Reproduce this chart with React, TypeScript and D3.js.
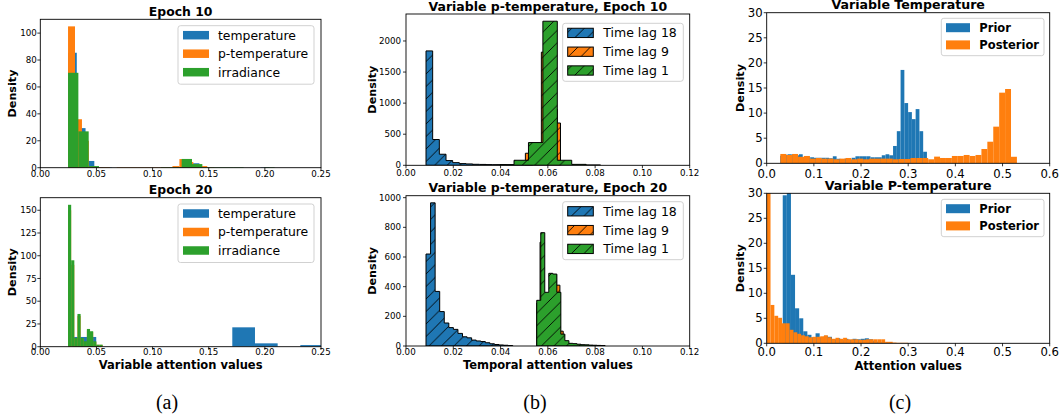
import React from 'react';
import * as d3 from 'd3';

const C_BLUE = '#1f77b4';
const C_ORANGE = '#ff7f0e';
const C_GREEN = '#2ca02c';
const FONT = "'DejaVu Sans', sans-serif";

// ---------- Panel (a): variable attention histograms ----------
const varLabels = ['temperature', 'p-temperature', 'irradiance'];
const aXTicks = [0, 0.05, 0.1, 0.15, 0.2, 0.25];
const a1YTicks = [0, 20, 40, 60, 80, 100];
const a2YTicks = [0, 25, 50, 75, 100, 125, 150];

// Epoch 10
const e10TempStart = 0.0247, e10TempWidth = 0.0078;
const e10Temp = [85.4, 29.4, 5, 0.4, 0.3, 0, 0, 0, 0, 0, 0, 0, 0.4, 5, 3.3, 0.4, 0, 0, 0, 0, 0, 0, 0.3];
const e10PTempStart = 0.0247, e10PTempWidth = 0.0062;
const e10PTemp = [105, 36, 20, 1, 0.5, 0.5, 0, 0.4, 0.4, 0.4, 0.4, 0.4, 0.4, 0.4, 0.4, 1.2, 6.4, 4.2, 2.5, 1.2, 0.3];
const e10IrrStart = 0.0247, e10IrrWidth = 0.0092;
const e10Irr = [70.5, 27, 1.2, 0, 0, 0, 0, 0, 0, 0.4, 0.4, 6.5, 2.7, 0.4, 0.4, 0.4, 0.4, 0, 0, 0.4];

// Epoch 20
const e20TempStart = 0.0296, e20TempWidth = 0.0202;
const e20Temp = [10.7, 0, 0, 0, 0, 0, 0, 21.3, 3.7, 0, 1.8];
const e20PTempStart = 0.0247, e20PTempWidth = 0.0028;
const e20PTemp = [150, 90, 9, 34, 9, 5, 18, 16, 5, 2, 2];
const e20IrrStart = 0.0247, e20IrrWidth = 0.0028;
const e20Irr = [156, 95, 9.6, 36, 9.6, 6, 19.5, 17, 6, 2.2, 2.2];

// ---------- Panel (b): temporal attention of p-temperature ----------
const lagLabels = ['Time lag 18', 'Time lag 9', 'Time lag 1'];
const bXTicks = [0, 0.02, 0.04, 0.06, 0.08, 0.1, 0.12];
const b1YTicks = [0, 500, 1000, 1500, 2000];
const b2YTicks = [0, 200, 400, 600, 800, 1000];

const e10Lag18Start = 0.00846, e10Lag18Width = 0.00282;
const e10Lag18 = [1840, 415, 178, 76, 43, 27, 22, 16, 14, 11, 10, 10, 5, 4, 3, 2];
const e10Lag9Start = 0.0505, e10Lag9Width = 0.00135;
const e10Lag9 = [194, 250, 300, 320, 300, 1820, 1400, 1500, 1300, 900, 680];
const e10Lag1Start = 0.0396, e10Lag1Width = 0.0061;
const e10Lag1 = [10, 81, 366, 2318, 81, 15, 5];

const e20Lag18Start = 0.00846, e20Lag18Width = 0.00193;
const e20Lag18 = [620, 965, 368, 232, 155, 124, 112, 85, 62, 55, 40, 34, 30, 22, 15, 10, 7, 5, 3];
const e20Lag9Start = 0.0553, e20Lag9Width = 0.0014;
const e20Lag9 = [290, 700, 350, 350, 470, 480, 410, 100, 30, 10];
const e20Lag1Start = 0.0553, e20Lag1Width = 0.0017;
const e20Lag1 = [308, 764, 362, 490, 485, 362, 80, 36, 18, 16, 12, 9, 8, 6, 5, 4, 3];

// ---------- Panel (c): prior vs posterior ----------
const pLabels = ['Prior', 'Posterior'];
const cXTicks = [0, 0.1, 0.2, 0.3, 0.4, 0.5, 0.6];
const cYTicks = [0, 5, 10, 15, 20, 25, 30];

const tPriorStart = 0.0285, tPriorWidth = 0.00798;
const tPrior = [1.5, 1.7, 1.8, 1.8, 1.6, 1.8, 1.2, 1.2, 1.2, 1.1, 1.1, 1.1, 1.1, 1.0, 1.4, 0.9, 0.7, 0.9, 0.7, 1.1,
  1.4, 1.4, 1.4, 1.4, 1.2, 1.2, 1.2, 1.6, 1.8, 1.6, 3.45, 6.4, 18.6, 12.0, 10.2, 8.8, 10.8, 6.4, 2.3];
const tPostStart = 0.0289, tPostWidth = 0.01254;
const tPost = [1.86, 1.66, 1.86, 1.3, 1.46, 0.93, 1.06, 0.93, 0.93, 0.8, 0.93, 1.06, 0.8, 0.93, 0.8, 0.93, 0.93, 0.93, 0.93, 0.8,
  0.86, 0.86, 1.06, 1.06, 1.06, 0.8, 1.33, 1.06, 1.06, 1.46, 1.46, 1.66, 1.46, 1.66, 2.85, 4.3, 7.3, 14.07, 14.8, 1.3];

const pPriorStart = 0.034, pPriorWidth = 0.0087;
const pPrior = [29.6, 35, 13.7, 7.0, 5.0, 2.4, 1.7, 1.2, 2.0, 1.2, 1.5, 1.3, 0.8, 1.0, 0.6, 0.9, 0.7, 0.9, 0.8, 0.9, 1.0, 0.8, 0.5, 0.3, 0.2];
const pPostStart = 0.0, pPostWidth = 0.0081;
const pPost = [45, 7.67, 5.5, 5.1, 4.0, 4.0, 2.7, 2.2, 1.9, 1.6, 1.4, 1.2, 1.3, 1.3, 1.4, 1.6, 1.2, 0.9, 1.1, 0.9,
  1.1, 0.8, 0.8, 0.8, 0.7, 0.7, 0.8, 0.8, 0.8, 0.8, 0.8, 0.3, 0.3, 0.15, 0.1, 0.1, 0.1];

const captions = ['(a)', '(b)', '(c)'];

// ---------- types ----------
interface Hist { label: string; color: string; start: number; width: number; values: number[] }
interface LegendCfg {
  x: number; y: number; w: number; h: number; rowStart: number; rowStep: number;
  patchDx: number; patchW: number; patchH: number; textDx: number; fontSize: number; bold?: boolean;
}
interface PanelCfg {
  id: string; left: number; right: number; top: number; bottom: number;
  xMax: number; xTicks: number[]; xFmt: string; yMax: number; yTicks: number[];
  series: Hist[]; hatched?: boolean;
  title: string; titleY: number; titleSize: number;
  yLabelX: number; xLabel?: string; xLabelY?: number;
  tickSize: number; yTickPad: number; xTickBaseline: number;
  legend: LegendCfg;
}

const mk = (label: string, color: string, start: number, width: number, values: number[]): Hist =>
  ({ label, color, start, width, values });
const autoMax = (s: Hist[]) => 1.05 * (d3.max(s.flatMap(h => h.values)) as number);

const a1Series = [
  mk(varLabels[0], C_BLUE, e10TempStart, e10TempWidth, e10Temp),
  mk(varLabels[1], C_ORANGE, e10PTempStart, e10PTempWidth, e10PTemp),
  mk(varLabels[2], C_GREEN, e10IrrStart, e10IrrWidth, e10Irr),
];
const a2Series = [
  mk(varLabels[0], C_BLUE, e20TempStart, e20TempWidth, e20Temp),
  mk(varLabels[1], C_ORANGE, e20PTempStart, e20PTempWidth, e20PTemp),
  mk(varLabels[2], C_GREEN, e20IrrStart, e20IrrWidth, e20Irr),
];
const b1Series = [
  mk(lagLabels[0], C_BLUE, e10Lag18Start, e10Lag18Width, e10Lag18),
  mk(lagLabels[1], C_ORANGE, e10Lag9Start, e10Lag9Width, e10Lag9),
  mk(lagLabels[2], C_GREEN, e10Lag1Start, e10Lag1Width, e10Lag1),
];
const b2Series = [
  mk(lagLabels[0], C_BLUE, e20Lag18Start, e20Lag18Width, e20Lag18),
  mk(lagLabels[1], C_ORANGE, e20Lag9Start, e20Lag9Width, e20Lag9),
  mk(lagLabels[2], C_GREEN, e20Lag1Start, e20Lag1Width, e20Lag1),
];
const c1Series = [
  mk(pLabels[0], C_BLUE, tPriorStart, tPriorWidth, tPrior),
  mk(pLabels[1], C_ORANGE, tPostStart, tPostWidth, tPost),
];
const c2Series = [
  mk(pLabels[0], C_BLUE, pPriorStart, pPriorWidth, pPrior),
  mk(pLabels[1], C_ORANGE, pPostStart, pPostWidth, pPost),
];

const legA = { w: 136, h: 58.5, rowStart: 9.5, rowStep: 18.5, patchDx: 5, patchW: 26, patchH: 8.5, textDx: 40, fontSize: 12.4 };
const legB = { w: 120.6, h: 58, rowStart: 9.6, rowStep: 18.8, patchDx: 5, patchW: 25.6, patchH: 9.3, textDx: 40.6, fontSize: 12.5 };
const legC = { w: 102.7, h: 37.4, rowStart: 9.4, rowStep: 17.2, patchDx: 4.7, patchW: 24, patchH: 9, textDx: 38, fontSize: 11.5, bold: true };

const panels: PanelCfg[] = [
  { id: 'a1', left: 40.3, right: 321, top: 19.3, bottom: 167.7, xMax: 0.25, xTicks: aXTicks, xFmt: '.2f',
    yMax: autoMax(a1Series), yTicks: a1YTicks, series: a1Series, title: 'Epoch 10', titleY: 16, titleSize: 12.4,
    yLabelX: 16, tickSize: 8.7, yTickPad: 3.5, xTickBaseline: 176.5, legend: { x: 178, y: 25.7, ...legA } },
  { id: 'a2', left: 40.3, right: 321, top: 197.7, bottom: 346.7, xMax: 0.25, xTicks: aXTicks, xFmt: '.2f',
    yMax: autoMax(a2Series), yTicks: a2YTicks, series: a2Series, title: 'Epoch 20', titleY: 194.2, titleSize: 12.4,
    yLabelX: 16, xLabel: 'Variable attention values', xLabelY: 369, tickSize: 8.7, yTickPad: 3.5, xTickBaseline: 355,
    legend: { x: 178, y: 204, ...legA } },
  { id: 'b1', left: 406, right: 689.7, top: 14, bottom: 165.3, xMax: 0.12, xTicks: bXTicks, xFmt: '.2f',
    yMax: autoMax(b1Series), yTicks: b1YTicks, series: b1Series, hatched: true,
    title: 'Variable p-temperature, Epoch 10', titleY: 10.6, titleSize: 12.5,
    yLabelX: 375.5, tickSize: 8.7, yTickPad: 5, xTickBaseline: 176, legend: { x: 562.7, y: 23.3, ...legB } },
  { id: 'b2', left: 406, right: 689.7, top: 195.7, bottom: 346, xMax: 0.12, xTicks: bXTicks, xFmt: '.2f',
    yMax: autoMax(b2Series), yTicks: b2YTicks, series: b2Series, hatched: true,
    title: 'Variable p-temperature, Epoch 20', titleY: 192.3, titleSize: 12.5,
    yLabelX: 375.5, xLabel: 'Temporal attention values', xLabelY: 369, tickSize: 8.7, yTickPad: 5, xTickBaseline: 355,
    legend: { x: 562.7, y: 201.7, ...legB } },
  { id: 'c1', left: 766.7, right: 1049.7, top: 12.7, bottom: 163.3, xMax: 0.6, xTicks: cXTicks, xFmt: '.1f',
    yMax: 30, yTicks: cYTicks, series: c1Series, title: 'Variable Temperature', titleY: 9.2, titleSize: 12.6,
    yLabelX: 744, tickSize: 11.7, yTickPad: 4, xTickBaseline: 177.5, legend: { x: 941.3, y: 18.3, ...legC } },
  { id: 'c2', left: 766.7, right: 1049.7, top: 193.3, bottom: 343.3, xMax: 0.6, xTicks: cXTicks, xFmt: '.1f',
    yMax: 30, yTicks: cYTicks, series: c2Series, title: 'Variable P-temperature', titleY: 189.6, titleSize: 12.6,
    yLabelX: 744, xLabel: 'Attention values', xLabelY: 369.5, tickSize: 11.7, yTickPad: 4, xTickBaseline: 355.5,
    legend: { x: 941.3, y: 199.3, ...legC } },
];

const captionX = [167, 535, 900];

function binsOf(h: Hist) {
  return h.values.map((v, i) => ({ x0: h.start + i * h.width, x1: h.start + (i + 1) * h.width, v }));
}

function Panel({ cfg }: { cfg: PanelCfg }) {
  const x = d3.scaleLinear().domain([0, cfg.xMax]).range([cfg.left, cfg.right]);
  const y = d3.scaleLinear().domain([0, cfg.yMax]).range([cfg.bottom, cfg.top]);
  const fmt = d3.format(cfg.xFmt);
  const clipId = `clip-${cfg.id}`;
  const cx = (cfg.left + cfg.right) / 2;
  const cy = (cfg.top + cfg.bottom) / 2;
  const L = cfg.legend;

  const stepPath = (h: Hist) => {
    const b = binsOf(h);
    const p = d3.path();
    p.moveTo(x(b[0].x0), y(0));
    b.forEach(d => { p.lineTo(x(d.x0), y(d.v)); p.lineTo(x(d.x1), y(d.v)); });
    p.lineTo(x(b[b.length - 1].x1), y(0));
    p.closePath();
    return p.toString();
  };

  return (
    <g>
      <defs>
        <clipPath id={clipId}>
          <rect x={cfg.left} y={cfg.top} width={cfg.right - cfg.left} height={cfg.bottom - cfg.top} />
        </clipPath>
      </defs>
      <g clipPath={`url(#${clipId})`}>
        {cfg.series.map((h, si) => cfg.hatched ? (
          <g key={si}>
            <path d={stepPath(h)} fill={h.color} />
            <path d={stepPath(h)} fill="url(#hatch)" />
            <path d={stepPath(h)} fill="none" stroke="#000" strokeWidth={1} strokeLinejoin="miter" />
          </g>
        ) : (
          <g key={si}>
            {binsOf(h).filter(d => d.v > 0).map((d, i) => (
              <rect key={i} x={x(d.x0)} width={x(d.x1) - x(d.x0)} y={y(d.v)} height={y(0) - y(d.v)} fill={h.color} />
            ))}
          </g>
        ))}
      </g>
      <rect x={cfg.left} y={cfg.top} width={cfg.right - cfg.left} height={cfg.bottom - cfg.top}
        fill="none" stroke="#000" strokeWidth={0.9} />
      {cfg.xTicks.map((t, i) => (
        <g key={'xt' + i}>
          <line x1={x(t)} x2={x(t)} y1={cfg.bottom} y2={cfg.bottom + 3} stroke="#000" strokeWidth={0.8} />
          <text x={x(t)} y={cfg.xTickBaseline} textAnchor="middle" fontSize={cfg.tickSize} fontFamily={FONT} fill="#000">{fmt(t)}</text>
        </g>
      ))}
      {cfg.yTicks.map((t, i) => (
        <g key={'yt' + i}>
          <line x1={cfg.left - 3} x2={cfg.left} y1={y(t)} y2={y(t)} stroke="#000" strokeWidth={0.8} />
          <text x={cfg.left - cfg.yTickPad} y={y(t)} dy="0.35em" textAnchor="end" fontSize={cfg.tickSize} fontFamily={FONT} fill="#000">{t}</text>
        </g>
      ))}
      <text x={cx} y={cfg.titleY} textAnchor="middle" fontSize={cfg.titleSize} fontWeight="bold" fontFamily={FONT}>{cfg.title}</text>
      <text transform={`translate(${cfg.yLabelX},${cy}) rotate(-90)`} textAnchor="middle" fontSize={11.2} fontWeight="bold" fontFamily={FONT}>Density</text>
      {cfg.xLabel && (
        <text x={cx} y={cfg.xLabelY} textAnchor="middle" fontSize={11.5} fontWeight="bold" fontFamily={FONT}>{cfg.xLabel}</text>
      )}
      <g>
        <rect x={L.x} y={L.y} width={L.w} height={L.h} rx={2.5} ry={2.5} fill="#fff" fillOpacity={0.8}
          stroke="#cccccc" strokeWidth={0.9} />
        {cfg.series.map((h, i) => {
          const ry = L.y + L.rowStart + i * L.rowStep;
          return (
            <g key={'lg' + i}>
              <rect x={L.x + L.patchDx} y={ry - L.patchH / 2} width={L.patchW} height={L.patchH} fill={h.color} />
              {cfg.hatched && (
                <>
                  <rect x={L.x + L.patchDx} y={ry - L.patchH / 2} width={L.patchW} height={L.patchH} fill="url(#hatch)" />
                  <rect x={L.x + L.patchDx} y={ry - L.patchH / 2} width={L.patchW} height={L.patchH} fill="none" stroke="#000" strokeWidth={1} />
                </>
              )}
              <text x={L.x + L.textDx} y={ry} dy="0.36em" fontSize={L.fontSize} fontWeight={L.bold ? 'bold' : 'normal'} fontFamily={FONT}>{h.label}</text>
            </g>
          );
        })}
      </g>
    </g>
  );
}

export default function App() {
  return (
    <div style={{ position: 'absolute', left: 0, top: 0 }}>
      <svg width={1060} height={417} viewBox="0 0 1060 417" style={{ display: 'block', background: '#fff' }}>
        <defs>
          <pattern id="hatch" patternUnits="userSpaceOnUse" width={12.5} height={12.5}>
            <path d="M-1.5,1.5 L1.5,-1.5 M0,12.5 L12.5,0 M11,14 L14,11" stroke="#000" strokeWidth={0.9} />
          </pattern>
        </defs>
        <rect x={0} y={0} width={1060} height={417} fill="#fff" />
        {panels.map(p => <Panel key={p.id} cfg={p} />)}
        {captions.map((c, i) => (
          <text key={c} x={captionX[i]} y={409} textAnchor="middle" fontSize={20}
            fontFamily="'Liberation Serif', 'Times New Roman', serif">{c}</text>
        ))}
      </svg>
    </div>
  );
}
